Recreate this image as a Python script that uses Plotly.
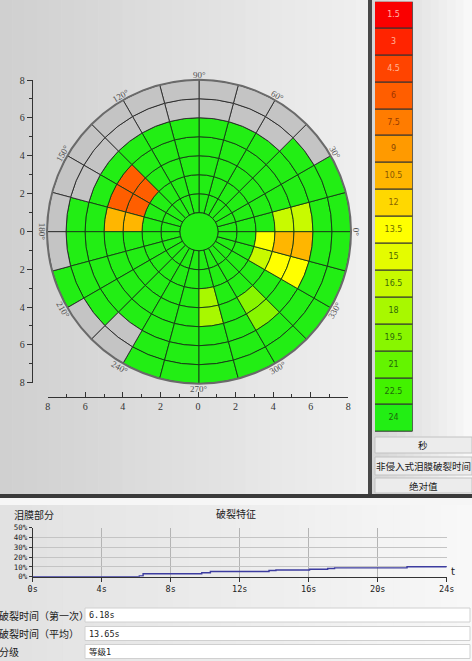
import math
import plotly.graph_objects as go

W, H = 472, 661

# ---------------- data ----------------
BIN_LABELS = ["1.5", "3", "4.5", "6", "7.5", "9", "10.5", "12", "13.5",
              "15", "16.5", "18", "19.5", "21", "22.5", "24"]
BIN_VALUES = [1.5, 3, 4.5, 6, 7.5, 9, 10.5, 12, 13.5, 15, 16.5, 18, 19.5, 21, 22.5, 24]
BIN_COLORS = ["#fa0000", "#ff2400", "#ff4400", "#ff5e00", "#ff7c00", "#ff9a00",
              "#ffb600", "#ffd800", "#ffff00", "#e4fc00", "#c8fa00", "#a8f800",
              "#88f600", "#64f400", "#42f200", "#22ee14"]
BIN_TEXT_COLORS = ["#ffb4a8", "#ffb49a", "#ffb496", "#a03400", "#983c00", "#8a4600",
                   "#8a5600", "#8a6400", "#706c00", "#4e6a00", "#3e6a08", "#306a08",
                   "#2a6a0a", "#246a0a", "#206a0a", "#1e680a"]
NODATA_COLOR = "#c4c4c4"

SECTOR_WIDTH = 15            # degrees
N_SECTORS = 24
RING_INNER = [1, 2, 3, 4, 5, 6, 7]
CENTER_VALUE = 24
G, N = 24, None
# breakup time (s) per ring (rows, inner radius 1..7) and sector (0deg..360deg CCW)
BREAKUP = [
    [G, G, G, G, G, G, G, G, G, G, G, G, G, G, G, G, G, G, G, G, G, G, G, G],
    [G, G, G, G, G, G, G, G, G, G, G, G, G, G, G, G, G, G, G, G, G, G, G, G],
    [G, G, G, G, G, G, G, G, G, 6, 6, 10.5, G, G, G, G, G, G, 18, G, G, G, 16.5, 13.5],
    [16.5, G, G, G, G, G, G, G, G, 6, 6, 10.5, G, G, G, G, G, G, 18, G, 19.5, G, 13.5, 10.5],
    [16.5, G, G, G, G, G, G, G, G, G, G, G, G, G, G, G, G, G, G, G, 19.5, G, 13.5, 10.5],
    [G, G, G, N, N, N, N, N, N, N, N, G, G, G, G, N, G, G, G, G, G, G, G, G],
    [G, G, N, N, N, N, N, N, N, N, N, N, N, G, N, N, G, G, G, G, G, G, G, G],
]
ANGLE_LABELS = [0, 30, 60, 90, 120, 150, 180, 210, 240, 270, 300, 330]
AXIS_TICKS = [-8, -6, -4, -2, 0, 2, 4, 6, 8]

T_SEC = [0, 6.18, 6.4, 9.8, 10.3, 13.7, 14.1, 16.05, 17.1, 17.5, 21.7, 24]
TEAR_PCT = [0, 0.8, 3.0, 4.0, 5.3, 6.3, 6.9, 7.6, 8.3, 9.0, 10.2, 10.0]
LINE_XTICKS = [0, 4, 8, 12, 16, 20, 24]
LINE_YTICKS = [0, 10, 20, 30, 40, 50]

INFO_LABELS = ["破裂时间（第一次）", "破裂时间（平均）", "分级"]
INFO_VALUES = ["6.18s", "13.65s", "等级1"]
BUTTONS = ["秒", "非侵入式泪膜破裂时间", "绝对值"]

CJK = "Noto Sans CJK SC"


def px(x):
    return x / W


def py(y):
    return 1 - y / H


def color_of(v):
    return BIN_COLORS[BIN_VALUES.index(v)]


def note(x, y, text, font, xanchor="center", textangle=0):
    return dict(x=px(x), y=py(y), xref="paper", yref="paper", text=text, showarrow=False,
                xanchor=xanchor, yanchor="middle", textangle=textangle, font=font)


fig = go.Figure()

# ---------------- polar breakup map ----------------
th, base, cols, gth, gbase = [], [], [], [], []
for ri, row in enumerate(BREAKUP):
    for k, v in enumerate(row):
        t = k * SECTOR_WIDTH + SECTOR_WIDTH / 2
        if v is None:
            gth.append(t)
            gbase.append(RING_INNER[ri])
        else:
            th.append(t)
            base.append(RING_INNER[ri])
            cols.append(color_of(v))

fig.add_trace(go.Barpolar(theta=th, r=[1] * len(th), base=base, width=[SECTOR_WIDTH] * len(th),
                          marker=dict(color=cols, line=dict(color="#163a16", width=0.9)),
                          hoverinfo="skip", showlegend=False))
fig.add_trace(go.Barpolar(theta=gth, r=[1] * len(gth), base=gbase, width=[SECTOR_WIDTH] * len(gth),
                          marker=dict(color=NODATA_COLOR, line=dict(color="#2a2a2a", width=0.9)),
                          hoverinfo="skip", showlegend=False))
fig.add_trace(go.Barpolar(theta=[0], r=[1], base=[0], width=[360],
                          marker=dict(color=color_of(CENTER_VALUE), line=dict(color="#163a16", width=0.9)),
                          hoverinfo="skip", showlegend=False))

CX, CY, R = 199, 231.7, 152
fig.update_layout(polar=dict(
    domain=dict(x=[px(CX - R), px(CX + R)], y=[py(CY + R), py(CY - R)]),
    bgcolor="rgba(0,0,0,0)",
    bargap=0,
    radialaxis=dict(range=[0, 8], visible=False, showgrid=False),
    angularaxis=dict(showgrid=False, showticklabels=False, ticks="",
                     linecolor="#6a6a6a", linewidth=2),
))

ann = []
angfont = dict(family="Liberation Serif", size=9, color="#505050")
for a in ANGLE_LABELS:
    rad = math.radians(a)
    ta = 90 - a
    while ta > 90:
        ta -= 180
    while ta <= -90:
        ta += 180
    ann.append(note(CX + 157 * math.cos(rad), CY - 157 * math.sin(rad), f"{a}°", angfont, textangle=ta))

# cartesian frame axes around the polar map
fig.add_trace(go.Scatter(x=[None], y=[None], xaxis="x", yaxis="y", showlegend=False))
axfont = dict(family="Liberation Serif", size=10, color="#333")
fig.update_layout(
    xaxis=dict(domain=[px(47.7), px(348.3)], range=[-8, 8], anchor="free", position=py(396.7),
               tickvals=AXIS_TICKS, ticktext=[str(abs(v)) for v in AXIS_TICKS],
               ticks="inside", ticklen=5, tickcolor="#333", showline=True, linecolor="#333",
               showgrid=False, zeroline=False, tickfont=axfont, automargin=False,
               minor=dict(dtick=1, ticks="inside", ticklen=3, tickcolor="#333", showgrid=False)),
    yaxis=dict(domain=[py(382.7), py(80)], range=[-8, 8], anchor="free", position=px(31.7),
               tickvals=AXIS_TICKS, ticktext=[str(abs(v)) for v in AXIS_TICKS],
               ticks="outside", ticklen=5, tickcolor="#333", showline=True, linecolor="#333",
               showgrid=False, zeroline=False, tickfont=axfont, automargin=False,
               minor=dict(dtick=1, ticks="outside", ticklen=3, tickcolor="#333", showgrid=False)),
)

# ---------------- colour legend ----------------
fig.add_trace(go.Bar(x=[1] * len(BIN_LABELS), y=BIN_LABELS, orientation="h",
                     xaxis="x2", yaxis="y2",
                     marker=dict(color=BIN_COLORS, line=dict(color="#303030", width=1)),
                     text=BIN_LABELS, textposition="inside", insidetextanchor="middle",
                     textfont=dict(family="DejaVu Sans", size=8, color=BIN_TEXT_COLORS),
                     hoverinfo="skip", showlegend=False))
fig.update_layout(
    xaxis2=dict(domain=[px(375), px(412.7)], range=[0, 1], anchor="y2", visible=False, automargin=False),
    yaxis2=dict(domain=[py(432), py(1.7)], anchor="x2", type="category",
                categoryorder="array", categoryarray=BIN_LABELS, autorange="reversed",
                visible=False, automargin=False),
    bargap=0,
)

# ---------------- breakup characteristic line ----------------
fig.add_trace(go.Scatter(x=T_SEC, y=TEAR_PCT, mode="lines", line=dict(color="#3c3ca0", width=1.4, shape="hv"),
                         xaxis="x3", yaxis="y3", hoverinfo="skip", showlegend=False))
smallfont = dict(family="DejaVu Sans Mono", size=8.5, color="#222")
fig.update_layout(
    xaxis3=dict(domain=[px(32.7), px(446.7)], range=[0, 24], anchor="y3",
                tickvals=LINE_XTICKS, ticktext=[f"{v}s" for v in LINE_XTICKS],
                ticks="outside", ticklen=4, tickcolor="#333", showline=True, linecolor="#333",
                showgrid=True, gridcolor="#b4b4b4", gridwidth=1, zeroline=False, tickfont=smallfont,
                automargin=False),
    yaxis3=dict(domain=[py(576.7), py(527.7)], range=[0, 50], anchor="x3",
                tickvals=LINE_YTICKS, ticktext=[f"{v}%" for v in LINE_YTICKS],
                ticks="outside", ticklen=3, tickcolor="#333", showline=True, linecolor="#333",
                showgrid=True, gridcolor="#c4c4c4", gridwidth=1, zeroline=False,
                tickfont=dict(family="DejaVu Sans Mono", size=7.5, color="#222"), automargin=False),
)

ann += [
    note(236, 513, "破裂特征", dict(family=CJK, size=10, color="#222")),
    note(12, 514.5, "泪膜部分", dict(family=CJK, size=10, color="#222"), xanchor="left"),
    note(453, 571, "t", dict(family="DejaVu Sans", size=10, color="#222")),
]

# ---------------- background panels ----------------
shapes = []
NSTRIP = 30
for i in range(NSTRIP):
    x0 = 368 * i / NSTRIP
    x1 = 368 * (i + 1) / NSTRIP + 0.5
    g = int(208 + 32 * i / (NSTRIP - 1))
    shapes.append(dict(type="rect", xref="paper", yref="paper", x0=px(x0), x1=px(x1), y0=py(494), y1=py(0),
                       fillcolor=f"rgb({g},{g},{g})", line=dict(width=0), layer="below"))
for i in range(12):
    x0 = 372 + 100 * i / 12
    x1 = 372 + 100 * (i + 1) / 12 + 0.5
    g = int(214 + 34 * i / 11)
    shapes.append(dict(type="rect", xref="paper", yref="paper", x0=px(x0), x1=px(x1), y0=py(494), y1=py(0),
                       fillcolor=f"rgb({g},{g},{g})", line=dict(width=0), layer="below"))
for i in range(NSTRIP):
    x0 = 472 * i / NSTRIP
    x1 = 472 * (i + 1) / NSTRIP + 0.5
    g = int(226 + 22 * i / (NSTRIP - 1))
    shapes.append(dict(type="rect", xref="paper", yref="paper", x0=px(x0), x1=px(x1), y0=py(661), y1=py(498),
                       fillcolor=f"rgb({g},{g},{g})", line=dict(width=0), layer="below"))
shapes.append(dict(type="rect", xref="paper", yref="paper", x0=0, x1=1, y0=py(505), y1=py(498),
                   fillcolor="#f6f6f6", line=dict(width=0), layer="below"))
# separators
shapes.append(dict(type="rect", xref="paper", yref="paper", x0=px(368), x1=px(372), y0=py(497), y1=py(0),
                   fillcolor="#474747", line=dict(width=0), layer="below"))
shapes.append(dict(type="rect", xref="paper", yref="paper", x0=0, x1=1, y0=py(498), y1=py(494),
                   fillcolor="#3a3a3a", line=dict(width=0), layer="below"))

# buttons
BTN_Y = [(437, 453), (457, 475), (478, 493)]
for (y0, y1), label in zip(BTN_Y, BUTTONS):
    shapes.append(dict(type="rect", xref="paper", yref="paper", x0=px(375), x1=px(472), y0=py(y1), y1=py(y0),
                       fillcolor="#ececec", line=dict(color="#c2c2c2", width=1), layer="below"))
    ann.append(note(423, (y0 + y1) / 2, label, dict(family=CJK, size=9.5, color="#1a1a1a")))

# info boxes
BOX_Y = [(608, 622), (626.5, 640.5), (644.5, 658.5)]
for (y0, y1), lab, val in zip(BOX_Y, INFO_LABELS, INFO_VALUES):
    shapes.append(dict(type="rect", xref="paper", yref="paper", x0=px(85), x1=px(470), y0=py(y1), y1=py(y0),
                       fillcolor="#ffffff", line=dict(color="#d0d0d0", width=1), layer="below"))
    ann.append(note(-3, (y0 + y1) / 2, lab, dict(family=CJK, size=10, color="#1a1a1a"), xanchor="left"))
    ann.append(note(87, (y0 + y1) / 2, val, dict(family="DejaVu Sans Mono, " + CJK, size=8.5, color="#1a1a1a"),
                    xanchor="left"))

fig.update_layout(
    width=W, height=H, margin=dict(l=0, r=0, t=0, b=0, autoexpand=False),
    paper_bgcolor="#e4e4e4", plot_bgcolor="rgba(0,0,0,0)",
    shapes=shapes, annotations=ann, showlegend=False,
)

fig.write_html("out.html", config={"displayModeBar": False},
               post_script="document.body.style.margin='0px';document.body.style.overflow='hidden';")
